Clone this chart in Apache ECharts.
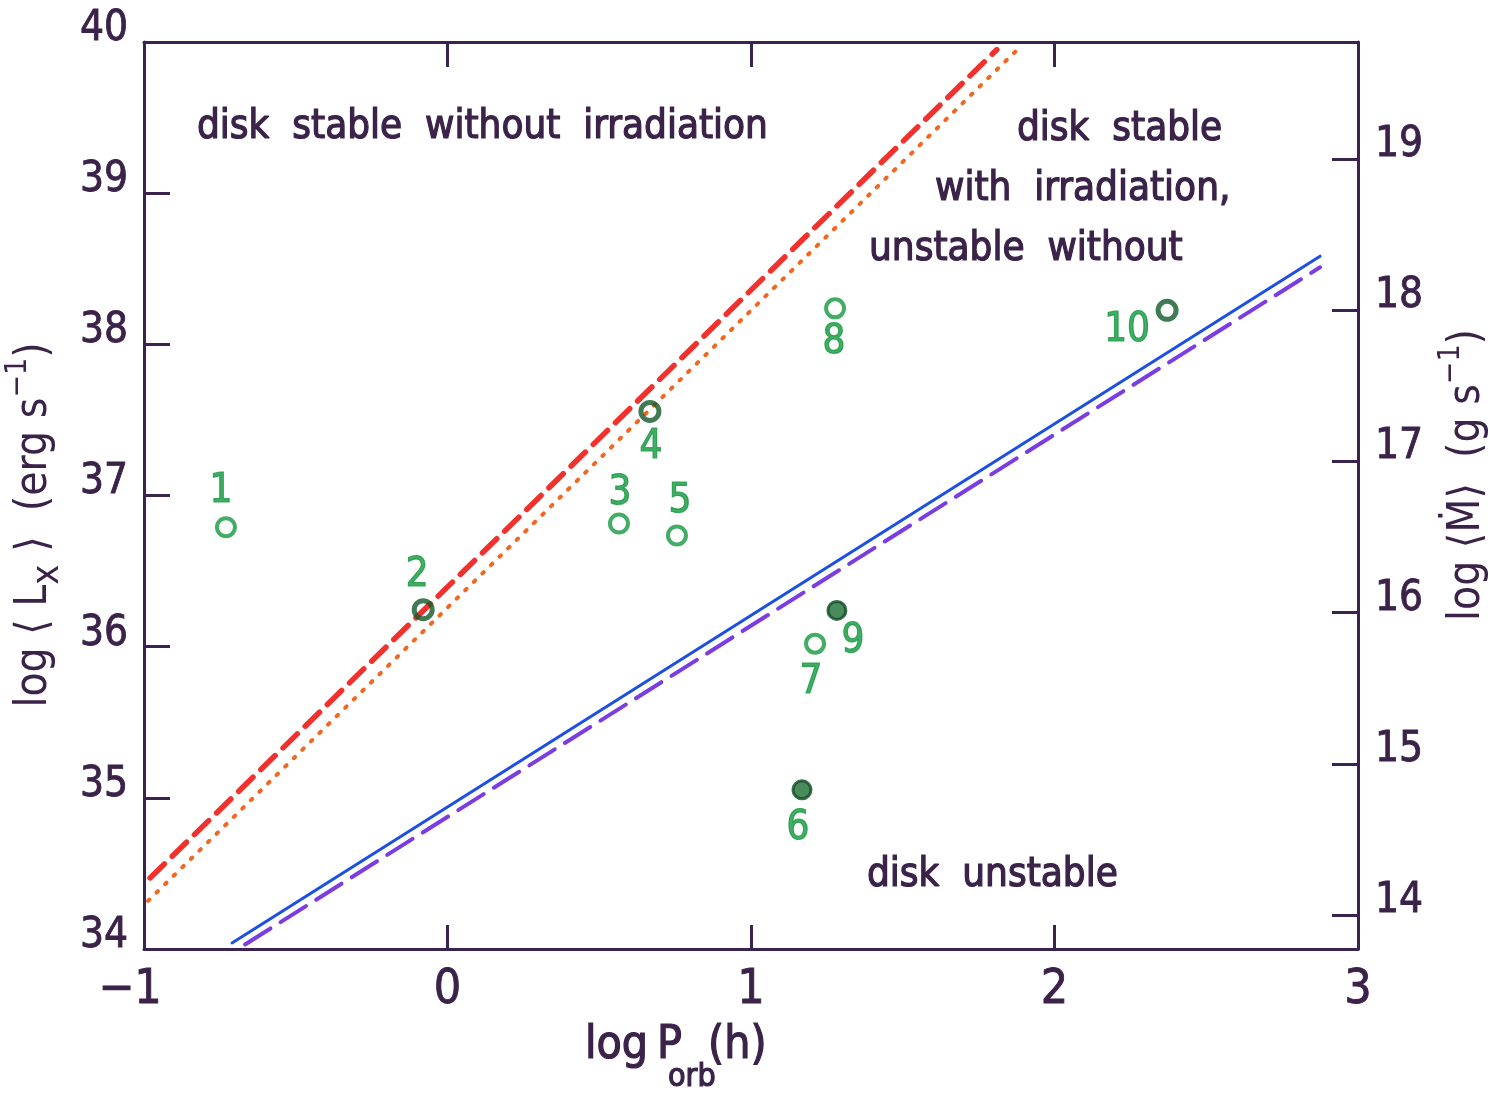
<!DOCTYPE html>
<html>
<head>
<meta charset="utf-8">
<script src="https://cdn.jsdelivr.net/npm/echarts@6/dist/echarts.min.js"></script>
<style>
  html, body { margin: 0; padding: 0; background: #ffffff; }
  #chart { width: 1507px; height: 1093px; }
</style>
</head>
<body>
<div id="chart"></div>
<script>
// Mean X-ray luminosity of transient sources against orbital period,
// with the disk-stability limits with and without irradiation.

// sources: id, log P_orb (h), log <L_x> (erg/s), marker kind
const sourceIds  = ['1', '2', '3', '4', '5', '6', '7', '8', '9', '10'];
const sourceLogP = [-0.73, -0.08, 0.565, 0.667, 0.756, 1.168, 1.211, 1.277, 1.283, 2.371];
const sourceLogL = [36.79, 36.245, 36.815, 37.556, 36.735, 35.053, 36.02, 38.238, 36.24, 38.225];
const sourceKind = ['open', 'ring', 'open', 'ring', 'open', 'filled', 'open', 'open', 'filled', 'ring'];

// stability limits: straight lines in log-log, given by their two end points
const irrDashLogP   = [-0.98, 1.81];
const irrDashLogL   = [34.47, 39.95];
const irrDotLogP    = [-0.987, 1.893];
const irrDotLogL    = [34.318, 39.98];
const plainLineLogP = [-0.71, 2.875];
const plainLineLogL = [34.04, 38.583];
const plainDashLogP = [-0.667, 2.875];
const plainDashLogL = [34.03, 38.51];

// axes
const xTickValues    = [-1, 0, 1, 2, 3];
const lTickValues    = [34, 35, 36, 37, 38, 39, 40];
const mdotTickValues = [14, 15, 16, 17, 18, 19];
const lMinusMdot     = 20.225;   // log<Lx> - log<Mdot>

const FONT = "'DejaVu Sans Condensed', 'Liberation Sans Narrow', 'Roboto Condensed', 'DejaVu Sans', sans-serif";
const INK = '#3a2249';
const AXIS = '#3b2350';
const GREEN = '#14993f';

const markerStyle = {
  open:   { color: 'rgba(255,255,255,0)', borderColor: GREEN, borderWidth: 4 },
  ring:   { color: 'rgba(255,255,255,0)', borderColor: '#125a2a', borderWidth: 5 },
  filled: { color: '#1b6e35', borderColor: '#0f4a22', borderWidth: 3 }
};
const labelOffset = {
  '1': [-5, -36], '2': [-6, -34], '3': [1, -30], '4': [1, 36], '5': [3, -34],
  '6': [-4, 39], '7': [-4, 39], '8': [-1, 34], '9': [16, 31], '10': [-40, 20]
};

const pairs = (xs, ys) => xs.map((x, i) => [x, ys[i]]);

const sources = sourceIds.map((id, i) => ({
  value: [sourceLogP[i], sourceLogL[i]],
  name: id,
  itemStyle: markerStyle[sourceKind[i]],
  label: { offset: labelOffset[id] }
}));

const limitLine = (name, xs, ys, color, width, dash) => ({
  name, type: 'line', data: pairs(xs, ys), showSymbol: false, symbol: 'none',
  animation: false, z: 2,
  lineStyle: { color, width, type: dash, cap: 'round' }
});

// tick labels sit a little above their ticks
const raisedLabel = (lift) => ({
  formatter: v => '{t|' + v + '}',
  rich: {
    t: {
      fontFamily: FONT, fontSize: 42, color: INK,
      textBorderColor: INK, textBorderWidth: 0.8,
      padding: [0, 0, lift, 0]
    }
  }
});

const inkText = (text, x, y, size, extra) => ({
  type: 'text', x, y,
  style: Object.assign({
    text, fontFamily: FONT, fontSize: size, fill: INK,
    stroke: INK, lineWidth: 1.2,
    align: 'left', verticalAlign: 'middle'
  }, extra || {})
});

const chart = echarts.init(document.getElementById('chart'), null, { renderer: 'canvas' });

chart.setOption({
  animation: false,
  backgroundColor: '#ffffff',
  grid: { left: 144, right: 149, top: 42, bottom: 144 },
  xAxis: [
    {
      type: 'value', min: xTickValues[0], max: xTickValues[xTickValues.length - 1], interval: 1,
      position: 'bottom',
      axisLine: { onZero: false, lineStyle: { color: AXIS, width: 3 } },
      axisTick: { inside: true, length: 24, lineStyle: { color: AXIS, width: 3 } },
      splitLine: { show: false },
      axisLabel: {
        margin: 18,
        formatter: v => v < 0 ? '{n|−' + Math.abs(v) + '}' : '{d|' + v + '}',
        rich: {
          n: { fontFamily: FONT, fontSize: 48, color: INK, textBorderColor: INK, textBorderWidth: 0.8, padding: [0, 28, 0, 0] },
          d: { fontFamily: FONT, fontSize: 48, color: INK, textBorderColor: INK, textBorderWidth: 0.8 }
        }
      }
    },
    {
      type: 'value', min: xTickValues[0], max: xTickValues[xTickValues.length - 1], interval: 1,
      position: 'top',
      axisLine: { onZero: false, lineStyle: { color: AXIS, width: 3 } },
      axisTick: { inside: true, length: 25, lineStyle: { color: AXIS, width: 3 } },
      axisLabel: { show: false },
      splitLine: { show: false }
    }
  ],
  yAxis: [
    {
      type: 'value', min: lTickValues[0], max: lTickValues[lTickValues.length - 1], interval: 1,
      position: 'left',
      axisLine: { show: true, onZero: false, lineStyle: { color: AXIS, width: 3 } },
      axisTick: { show: true, inside: true, length: 26, lineStyle: { color: AXIS, width: 3 } },
      splitLine: { show: false },
      axisLabel: Object.assign({ margin: 16 }, raisedLabel(26))
    },
    {
      type: 'value', min: lTickValues[0] - lMinusMdot, max: lTickValues[lTickValues.length - 1] - lMinusMdot,
      position: 'right',
      axisLine: { show: true, onZero: false, lineStyle: { color: AXIS, width: 3 } },
      axisTick: { show: true, inside: true, length: 26, customValues: mdotTickValues, lineStyle: { color: AXIS, width: 3 } },
      splitLine: { show: false },
      axisLabel: Object.assign({ customValues: mdotTickValues, margin: 17 }, raisedLabel(28))
    }
  ],
  series: [
    limitLine('irradiated, dashed', irrDashLogP, irrDashLogL, '#f2302c', 5.5, [20, 11]),
    limitLine('irradiated, dotted', irrDotLogP, irrDotLogL, '#f2661f', 4, [2, 10]),
    limitLine('non-irradiated, solid', plainLineLogP, plainLineLogL, '#1c4fe3', 3, 'solid'),
    limitLine('non-irradiated, dashed', plainDashLogP, plainDashLogL, '#7b3de2', 4, [30, 12]),
    {
      name: 'sources', type: 'scatter', z: 5, symbol: 'circle', symbolSize: 18,
      data: sources,
      label: {
        show: true, position: 'inside', formatter: p => p.name,
        fontFamily: FONT, fontSize: 40, color: GREEN,
        textBorderColor: GREEN, textBorderWidth: 1.2
      }
    }
  ],
  graphic: [
    inkText('disk  stable  without  irradiation', 197, 128, 40),
    inkText('disk  stable', 1017, 130, 40),
    inkText('with  irradiation,', 935, 190, 40),
    inkText('unstable  without', 869, 250, 40),
    inkText('disk  unstable', 867, 876, 40),
    {
      type: 'text', x: 35, y: 525, rotation: Math.PI / 2,
      style: {
        text: '{a|log ⟨ L}{s|x}{a| ⟩  (erg s}{p|−1}{a|)}',
        align: 'center', verticalAlign: 'middle',
        rich: {
          a: { fontFamily: FONT, fontSize: 44, fill: INK, lineHeight: 64, verticalAlign: 'middle' },
          s: { fontFamily: FONT, fontSize: 38, fill: INK, lineHeight: 44, verticalAlign: 'bottom' },
          p: { fontFamily: FONT, fontSize: 30, fill: INK, lineHeight: 38, verticalAlign: 'top' }
        }
      }
    },
    {
      type: 'text', x: 1468, y: 475, rotation: Math.PI / 2,
      style: {
        text: '{a|log ⟨Ṁ⟩  (g s}{p|−1}{a|)}',
        align: 'center', verticalAlign: 'middle',
        rich: {
          a: { fontFamily: FONT, fontSize: 44, fill: INK, lineHeight: 64, verticalAlign: 'middle' },
          p: { fontFamily: FONT, fontSize: 30, fill: INK, lineHeight: 38, verticalAlign: 'top' }
        }
      }
    },
    inkText('log', 585, 1046, 46),
    inkText('P', 657, 1046, 46),
    inkText('orb', 668, 1078, 32),
    inkText('(h)', 708, 1046, 46)
  ]
});
</script>
</body>
</html>
